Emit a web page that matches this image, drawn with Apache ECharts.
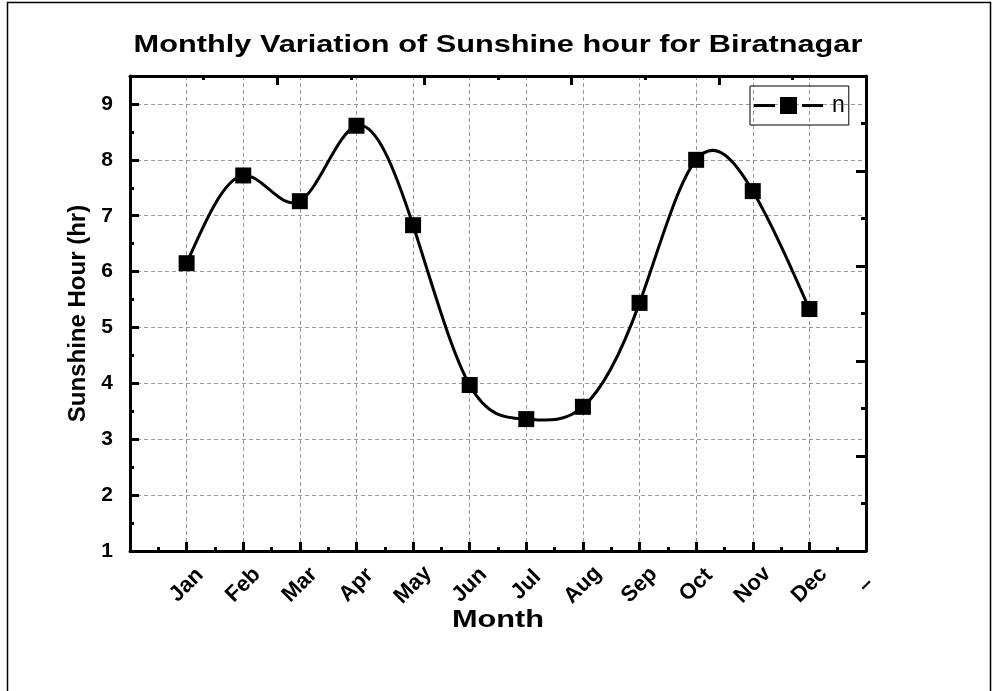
<!DOCTYPE html>
<html>
<head>
<meta charset="utf-8">
<script src="https://cdn.jsdelivr.net/npm/echarts@6/dist/echarts.min.js"></script>
<style>
  html, body { margin: 0; padding: 0; background: #fff; }
  #chart { width: 992px; height: 691px; }
</style>
</head>
<body>
<div id="chart"></div>
<script>
// data
const xTickLabels = ['', 'Jan', 'Feb', 'Mar', 'Apr', 'May', 'Jun', 'Jul', 'Aug', 'Sep', 'Oct', 'Nov', 'Dec', '–']
const monthPos = [1, 2, 3, 4, 5, 6, 7, 8, 9, 10, 11, 12]
const sunshine = [6.15, 7.72, 7.26, 8.61, 6.83, 3.97, 3.36, 3.58, 5.44, 8.0, 7.44, 5.33]
const yTicks = [1, 2, 3, 4, 5, 6, 7, 8, 9]

const font = 'Liberation Sans, Arial, sans-serif'
// the original picture is a bit wider than tall text would be
const stretchX = 1.28

// natural cubic spline (like Origin's spline connect): second derivatives
function splineM(xs, ys) {
  const n = xs.length
  const h = [], a = [], b = [], c = [], r = []
  for (let i = 0; i < n - 1; i++) h.push(xs[i + 1] - xs[i])
  const M = new Array(n).fill(0)
  if (n < 3) return M
  for (let i = 1; i < n - 1; i++) {
    a.push(h[i - 1])
    b.push(2 * (h[i - 1] + h[i]))
    c.push(h[i])
    r.push(6 * ((ys[i + 1] - ys[i]) / h[i] - (ys[i] - ys[i - 1]) / h[i - 1]))
  }
  // thomas algorithm
  const m = b.length
  for (let i = 1; i < m; i++) {
    const w = a[i] / b[i - 1]
    b[i] -= w * c[i - 1]
    r[i] -= w * r[i - 1]
  }
  const sol = new Array(m)
  sol[m - 1] = r[m - 1] / b[m - 1]
  for (let i = m - 2; i >= 0; i--) sol[i] = (r[i] - c[i] * sol[i + 1]) / b[i]
  for (let i = 0; i < m; i++) M[i + 1] = sol[i]
  return M
}
const M = splineM(monthPos, sunshine)

const chart = echarts.init(document.getElementById('chart'))

const gridLine = { show: true, lineStyle: { color: '#999', type: [4, 3], width: 1 } }
const tickStyle = { color: '#000', width: 3 }

const option = {
  animation: false,
  legend: {
    left: 750,
    top: 86,
    padding: [8, 4, 8, 4],
    itemWidth: 69,
    itemHeight: 17,
    itemGap: 0,
    borderColor: '#000',
    borderWidth: 1,
    // line - square - line, with small gaps like the original key
    icon: 'path://M0,7 L21,7 L21,10 L0,10 Z M26,0 L43,0 L43,17 L26,17 Z M48,7 L69,7 L69,10 L48,10 Z',
    itemStyle: { color: '#000' },
    textStyle: { fontFamily: font, fontSize: 23, color: '#000', padding: [0, 0, 0, 4] },
    data: ['n']
  },
  grid: { left: 130, right: 126, top: 76, bottom: 140 },
  xAxis: [
    {
      type: 'value',
      min: 0,
      max: 13,
      interval: 1,
      axisLine: { lineStyle: { color: '#000', width: 3 } },
      axisTick: { inside: true, length: 9, lineStyle: tickStyle },
      minorTick: { show: true, splitNumber: 2, length: 4, lineStyle: tickStyle },
      axisLabel: {
        rotate: 45,
        align: 'center',
        verticalAlign: 'middle',
        margin: 34,
        fontFamily: font,
        fontSize: 22,
        fontWeight: 'bold',
        color: '#000',
        formatter: v => xTickLabels[v] !== undefined ? xTickLabels[v] : ''
      },
      splitLine: gridLine
    },
    {
      type: 'value',
      position: 'top',
      min: 0,
      max: 5,
      interval: 1,
      axisLine: { show: true, onZero: false, lineStyle: { color: '#000', width: 3 } },
      axisTick: { inside: true, length: 9, lineStyle: tickStyle },
      minorTick: { show: true, splitNumber: 2, length: 4, lineStyle: tickStyle },
      axisLabel: { show: false },
      splitLine: { show: false }
    }
  ],
  yAxis: [
    {
      type: 'value',
      min: 1,
      max: 9.5,
      interval: 1,
      name: 'Sunshine Hour (hr)',
      nameLocation: 'middle',
      nameGap: 38,
      nameTextStyle: { fontFamily: font, fontSize: 24, fontWeight: 'bold', color: '#000' },
      axisLine: { lineStyle: { color: '#000', width: 3 } },
      axisTick: { inside: true, length: 9, lineStyle: tickStyle },
      minorTick: { show: true, splitNumber: 2, length: 4, lineStyle: tickStyle },
      axisLabel: {
        margin: 17,
        fontFamily: font,
        fontSize: 21,
        fontWeight: 'bold',
        color: '#000',
        formatter: v => yTicks.indexOf(v) >= 0 ? String(v) : ''
      },
      splitLine: gridLine
    },
    {
      type: 'value',
      position: 'right',
      min: 0,
      max: 5,
      interval: 1,
      axisLine: { show: true, onZero: false, lineStyle: { color: '#000', width: 3 } },
      axisTick: { inside: true, length: 10, lineStyle: tickStyle },
      minorTick: { show: true, splitNumber: 2, length: 5, lineStyle: tickStyle },
      axisLabel: { show: false },
      splitLine: { show: false }
    }
  ],
  graphic: [
    {
      type: 'rect',
      silent: true,
      shape: { x: 7.5, y: 2.5, width: 983, height: 700 },
      style: { fill: 'none', stroke: '#000', lineWidth: 1.5 }
    },
    {
      type: 'text',
      x: 498,
      y: 45,
      scaleX: stretchX,
      style: {
        text: 'Monthly Variation of Sunshine hour for Biratnagar',
        fontFamily: font, fontSize: 24, fontWeight: 'bold', fill: '#000',
        align: 'center', verticalAlign: 'middle'
      }
    },
    {
      type: 'text',
      x: 498,
      y: 620,
      scaleX: stretchX,
      style: {
        text: 'Month',
        fontFamily: font, fontSize: 24, fontWeight: 'bold', fill: '#000',
        align: 'center', verticalAlign: 'middle'
      }
    }
  ],
  series: [
    {
      // spline curve through the points, drawn as bezier pieces
      type: 'custom',
      xAxisIndex: 0,
      yAxisIndex: 0,
      silent: true,
      z: 2,
      data: monthPos.map((x, i) => [x, sunshine[i]]),
      encode: { x: 0, y: 1 },
      renderItem: (params, api) => {
        const i = params.dataIndex
        if (i >= monthPos.length - 1) return null
        const x0 = monthPos[i], x1 = monthPos[i + 1], h = x1 - x0
        const y0 = sunshine[i], y1 = sunshine[i + 1]
        const d0 = (y1 - y0) / h - h * (2 * M[i] + M[i + 1]) / 6
        const d1 = (y1 - y0) / h + h * (M[i] + 2 * M[i + 1]) / 6
        const p0 = api.coord([x0, y0])
        const c1 = api.coord([x0 + h / 3, y0 + d0 * h / 3])
        const c2 = api.coord([x1 - h / 3, y1 - d1 * h / 3])
        const p1 = api.coord([x1, y1])
        return {
          type: 'bezierCurve',
          shape: { x1: p0[0], y1: p0[1], cpx1: c1[0], cpy1: c1[1], cpx2: c2[0], cpy2: c2[1], x2: p1[0], y2: p1[1] },
          style: { stroke: '#000', lineWidth: 3, fill: 'none' }
        }
      }
    },
    {
      name: 'n',
      type: 'line',
      xAxisIndex: 0,
      yAxisIndex: 0,
      z: 3,
      symbol: 'rect',
      symbolSize: 16,
      itemStyle: { color: '#000' },
      lineStyle: { color: '#000', width: 3, opacity: 0 },
      data: monthPos.map((x, i) => [x, sunshine[i]])
    }
  ]
}

chart.setOption(option)
</script>
</body>
</html>
